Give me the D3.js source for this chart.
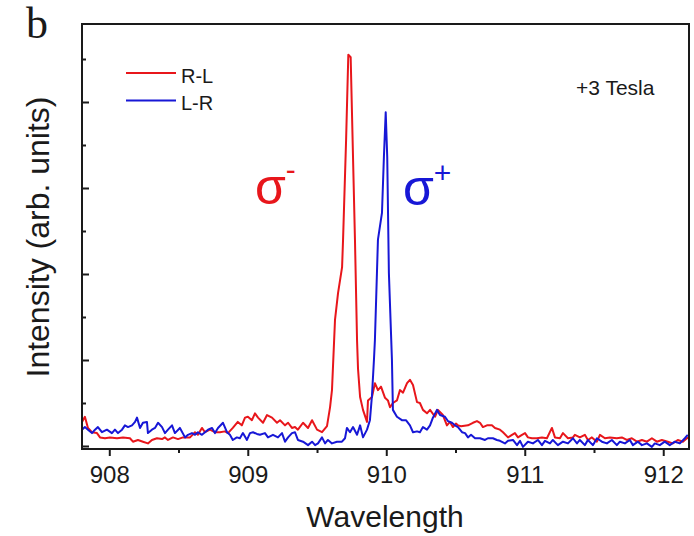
<!DOCTYPE html>
<html>
<head>
<meta charset="utf-8">
<script src="https://cdn.jsdelivr.net/npm/d3@7"></script>
<style>
  html, body { margin: 0; padding: 0; background: #fff; }
  svg { display: block; }
  text { font-family: "Liberation Sans", Arial, sans-serif; fill: #1a1a1a; }
</style>
</head>
<body>
<svg id="chart" width="694" height="536"></svg>
<script>
// Magneto-photoluminescence spectra at +3 T, two circular polarisations.
const rlWavelength = [
  907.803, 907.824, 907.846, 907.875, 907.911, 907.933, 907.969, 908.005, 908.056, 908.099,
  908.149, 908.171, 908.207, 908.243, 908.279, 908.308, 908.344, 908.381, 908.402, 908.424,
  908.460, 908.496, 908.532, 908.583, 908.619, 908.640, 908.669, 908.691, 908.727, 908.763,
  908.799, 908.835, 908.857, 908.892, 908.928, 908.957, 908.980, 909.001, 909.030, 909.052,
  909.074, 909.110, 909.139, 909.175, 909.211, 909.233, 909.269, 909.291, 909.319, 909.341,
  909.362, 909.399, 909.435, 909.464, 909.500, 909.536, 909.572, 909.594, 909.608, 909.630,
  909.652, 909.681, 909.688, 909.710, 909.726, 909.743, 909.757, 909.774, 909.789, 909.796,
  909.811, 909.832, 909.861, 909.868, 909.897, 909.918, 909.940, 909.962, 909.991, 910.012,
  910.027, 910.048, 910.077, 910.099, 910.121, 910.150, 910.171, 910.193, 910.222, 910.243,
  910.265, 910.294, 910.316, 910.352, 910.373, 910.409, 910.438, 910.460, 910.481, 910.503,
  910.518, 910.540, 910.590, 910.626, 910.655, 910.677, 910.698, 910.727, 910.763, 910.785,
  910.821, 910.843, 910.879, 910.908, 910.929, 910.951, 910.980, 911.002, 911.023, 911.052,
  911.088, 911.124, 911.160, 911.196, 911.218, 911.254, 911.276, 911.312, 911.348, 911.362,
  911.398, 911.434, 911.456, 911.485, 911.521, 911.543, 911.579, 911.615, 911.665, 911.701,
  911.737, 911.773, 911.810, 911.846, 911.882, 911.918, 911.954, 911.990, 912.033, 912.069,
  912.105, 912.142, 912.171, 912.186
];
const rlIntensity = [
  0.28, 0.34, 0.21, 0.16, 0.15, 0.10, 0.09, 0.10, 0.09, 0.10,
  0.09, 0.05, 0.07, 0.05, 0.03, 0.07, 0.09, 0.08, 0.10, 0.07,
  0.10, 0.08, 0.10, 0.10, 0.16, 0.13, 0.21, 0.16, 0.19, 0.16,
  0.16, 0.17, 0.15, 0.21, 0.28, 0.24, 0.33, 0.34, 0.30, 0.38,
  0.33, 0.27, 0.36, 0.33, 0.27, 0.30, 0.24, 0.27, 0.21, 0.22,
  0.19, 0.27, 0.21, 0.30, 0.19, 0.16, 0.23, 0.45, 0.65, 1.47,
  1.78, 2.08, 2.40, 3.56, 4.55, 4.52, 3.56, 2.40, 1.23, 0.90,
  0.57, 0.42, 0.28, 0.53, 0.57, 0.73, 0.65, 0.69, 0.56, 0.53,
  0.45, 0.50, 0.53, 0.65, 0.62, 0.73, 0.77, 0.71, 0.51, 0.50,
  0.42, 0.38, 0.42, 0.34, 0.42, 0.36, 0.24, 0.28, 0.22, 0.26,
  0.24, 0.23, 0.24, 0.27, 0.29, 0.27, 0.22, 0.24, 0.24, 0.21,
  0.19, 0.16, 0.10, 0.13, 0.15, 0.10, 0.13, 0.15, 0.10, 0.09,
  0.09, 0.10, 0.09, 0.21, 0.10, 0.09, 0.15, 0.09, 0.10, 0.13,
  0.10, 0.13, 0.07, 0.10, 0.05, 0.13, 0.09, 0.10, 0.09, 0.10,
  0.07, 0.09, 0.05, 0.07, 0.05, 0.09, 0.05, 0.07, 0.05, 0.03,
  0.07, 0.05, 0.09, 0.10
];

const lrWavelength = [
  907.803, 907.824, 907.846, 907.875, 907.897, 907.918, 907.947, 907.983, 908.019, 908.041,
  908.063, 908.092, 908.113, 908.135, 908.164, 908.186, 908.200, 908.222, 908.243, 908.272,
  908.279, 908.308, 908.330, 908.352, 908.381, 908.402, 908.424, 908.453, 908.474, 908.510,
  908.547, 908.568, 908.597, 908.619, 908.640, 908.669, 908.691, 908.713, 908.742, 908.763,
  908.785, 908.821, 908.850, 908.871, 908.892, 908.921, 908.943, 908.965, 908.994, 909.016,
  909.038, 909.066, 909.088, 909.124, 909.146, 909.182, 909.218, 909.247, 909.269, 909.291,
  909.319, 909.341, 909.362, 909.399, 909.435, 909.464, 909.486, 909.507, 909.536, 909.558,
  909.579, 909.608, 909.644, 909.680, 909.702, 909.716, 909.738, 909.760, 909.789, 909.811,
  909.832, 909.861, 909.882, 909.897, 909.911, 909.918, 909.940, 909.969, 909.983, 909.996,
  910.007, 910.019, 910.041, 910.048, 910.077, 910.113, 910.142, 910.171, 910.193, 910.222,
  910.243, 910.265, 910.294, 910.316, 910.337, 910.366, 910.388, 910.424, 910.445, 910.474,
  910.496, 910.518, 910.547, 910.569, 910.590, 910.612, 910.641, 910.677, 910.713, 910.734,
  910.770, 910.799, 910.821, 910.857, 910.879, 910.915, 910.944, 910.966, 910.987, 911.023,
  911.059, 911.095, 911.124, 911.146, 911.182, 911.203, 911.239, 911.276, 911.312, 911.348,
  911.377, 911.398, 911.434, 911.456, 911.492, 911.521, 911.557, 911.593, 911.629, 911.665,
  911.687, 911.723, 911.759, 911.781, 911.817, 911.846, 911.882, 911.918, 911.939, 911.975,
  912.011, 912.047, 912.084, 912.120, 912.156, 912.177
];
const lrIntensity = [
  0.19, 0.22, 0.19, 0.15, 0.19, 0.22, 0.16, 0.19, 0.15, 0.19,
  0.15, 0.19, 0.24, 0.22, 0.24, 0.28, 0.33, 0.21, 0.27, 0.28,
  0.15, 0.19, 0.21, 0.27, 0.22, 0.15, 0.19, 0.24, 0.15, 0.21,
  0.10, 0.13, 0.15, 0.13, 0.16, 0.13, 0.16, 0.19, 0.21, 0.15,
  0.21, 0.27, 0.16, 0.13, 0.07, 0.10, 0.09, 0.15, 0.07, 0.15,
  0.16, 0.14, 0.13, 0.15, 0.10, 0.13, 0.10, 0.15, 0.05, 0.10,
  0.15, 0.16, 0.07, 0.05, 0.01, 0.05, 0.01, 0.03, 0.10, 0.03,
  0.07, 0.03, 0.05, 0.05, 0.09, 0.21, 0.16, 0.22, 0.13, 0.24,
  0.10, 0.19, 0.30, 0.59, 1.00, 1.23, 2.40, 2.71, 3.36, 3.88,
  3.36, 2.01, 1.00, 0.42, 0.34, 0.30, 0.30, 0.24, 0.16, 0.17,
  0.16, 0.22, 0.19, 0.24, 0.33, 0.42, 0.36, 0.34, 0.29, 0.27,
  0.24, 0.22, 0.16, 0.15, 0.10, 0.13, 0.09, 0.09, 0.07, 0.09,
  0.09, 0.07, 0.06, 0.03, 0.06, 0.07, 0.01, 0.06, -0.01, 0.05,
  0.03, 0.07, 0.01, 0.06, 0.03, 0.07, 0.01, 0.05, 0.03, 0.09,
  0.03, 0.07, 0.01, 0.07, 0.01, 0.09, 0.05, 0.03, 0.07, 0.01,
  0.05, 0.03, 0.07, 0.01, 0.05, 0.01, 0.03, -0.01, 0.03, 0.01,
  0.05, 0.01, 0.05, 0.03, 0.09, 0.13
];

const xMajorTicks = [908, 909, 910, 911, 912];
const xMinorTicks = [908.5, 909.5, 910.5, 911.5];
const yMajorTicks = [0, 1, 2, 3, 4];
const yMinorTicks = [0.5, 1.5, 2.5, 3.5, 4.5];

const seriesNames = ["R-L", "L-R"];
const seriesColors = ["#e8161b", "#1717d6"];

const svg = d3.select("#chart");
const plot = { left: 82, right: 689, top: 24, bottom: 449 };

const x = d3.scaleLinear().domain([907.803, 912.186]).range([plot.left, plot.right]);
const y = d3.scaleLinear().domain([-0.035, 4.907]).range([plot.bottom, plot.top]);

svg.append("defs").append("clipPath").attr("id", "plot-clip")
  .append("rect")
  .attr("x", plot.left).attr("y", plot.top)
  .attr("width", plot.right - plot.left).attr("height", plot.bottom - plot.top);

// traces
const series = [
  { name: seriesNames[0], color: seriesColors[0], xs: rlWavelength, ys: rlIntensity },
  { name: seriesNames[1], color: seriesColors[1], xs: lrWavelength, ys: lrIntensity }
];
const line = d3.line().x(d => x(d[0])).y(d => y(d[1]));
const traces = svg.append("g").attr("clip-path", "url(#plot-clip)");
series.forEach(s => {
  traces.append("path")
    .datum(s.xs.map((w, i) => [w, s.ys[i]]))
    .attr("fill", "none")
    .attr("stroke", s.color)
    .attr("stroke-width", 2)
    .attr("stroke-linejoin", "round")
    .attr("d", line);
});

// axes
const axisColor = "#1a1a1a";
const xAxis = svg.append("g").attr("transform", `translate(0,${plot.bottom})`)
  .call(d3.axisBottom(x).tickValues(xMajorTicks).tickSize(7).tickPadding(10).tickFormat(d3.format("d")));
const xMinor = svg.append("g").attr("transform", `translate(0,${plot.bottom})`)
  .call(d3.axisBottom(x).tickValues(xMinorTicks).tickSize(4).tickFormat(""));
const yAxis = svg.append("g").attr("transform", `translate(${plot.left},0)`)
  .call(d3.axisLeft(y).tickValues(yMajorTicks).tickSize(-7).tickFormat(""));
const yMinor = svg.append("g").attr("transform", `translate(${plot.left},0)`)
  .call(d3.axisLeft(y).tickValues(yMinorTicks).tickSize(-4).tickFormat(""));

[xAxis, xMinor, yAxis, yMinor].forEach(g => {
  g.select(".domain").remove();
  g.selectAll(".tick line").attr("stroke", axisColor).attr("stroke-width", 2);
});
xAxis.selectAll(".tick text")
  .style("font-family", "'Liberation Sans', Arial, sans-serif")
  .style("font-size", "24px")
  .attr("fill", axisColor);

// frame
svg.append("rect")
  .attr("x", plot.left).attr("y", plot.top)
  .attr("width", plot.right - plot.left).attr("height", plot.bottom - plot.top)
  .attr("fill", "none").attr("stroke", axisColor).attr("stroke-width", 2);

// axis titles
svg.append("text")
  .attr("x", 385).attr("y", 527)
  .attr("text-anchor", "middle")
  .style("font-size", "30px")
  .text("Wavelength");

svg.append("text")
  .attr("transform", "translate(49,237) rotate(-90)")
  .attr("text-anchor", "middle")
  .style("font-size", "32px")
  .text("Intensity (arb. units)");

// panel letter
svg.append("text")
  .attr("x", 26).attr("y", 38)
  .style("font-family", "'Liberation Serif', 'Times New Roman', serif")
  .style("font-size", "44px")
  .text("b");

// legend
const legend = svg.append("g");
series.forEach((s, i) => {
  const ly = 73 + i * 27.5;
  legend.append("line")
    .attr("x1", 126).attr("x2", 176).attr("y1", ly).attr("y2", ly)
    .attr("stroke", s.color).attr("stroke-width", 2);
  legend.append("text")
    .attr("x", 181).attr("y", ly + 9.5)
    .style("font-size", "20px")
    .text(s.name);
});

svg.append("text")
  .attr("x", 576).attr("y", 95)
  .style("font-size", "21px")
  .text("+3 Tesla");

// polarisation labels
const sigmaMinus = svg.append("text")
  .attr("x", 255).attr("y", 204)
  .style("font-size", "50px")
  .style("fill", seriesColors[0]);
sigmaMinus.append("tspan").text("σ");
sigmaMinus.append("tspan").attr("dy", -24).style("font-size", "30px").text("-");

const sigmaPlus = svg.append("text")
  .attr("x", 403).attr("y", 205)
  .style("font-size", "50px")
  .style("fill", seriesColors[1]);
sigmaPlus.append("tspan").text("σ");
sigmaPlus.append("tspan").attr("dy", -22).style("font-size", "30px").text("+");
</script>
</body>
</html>
